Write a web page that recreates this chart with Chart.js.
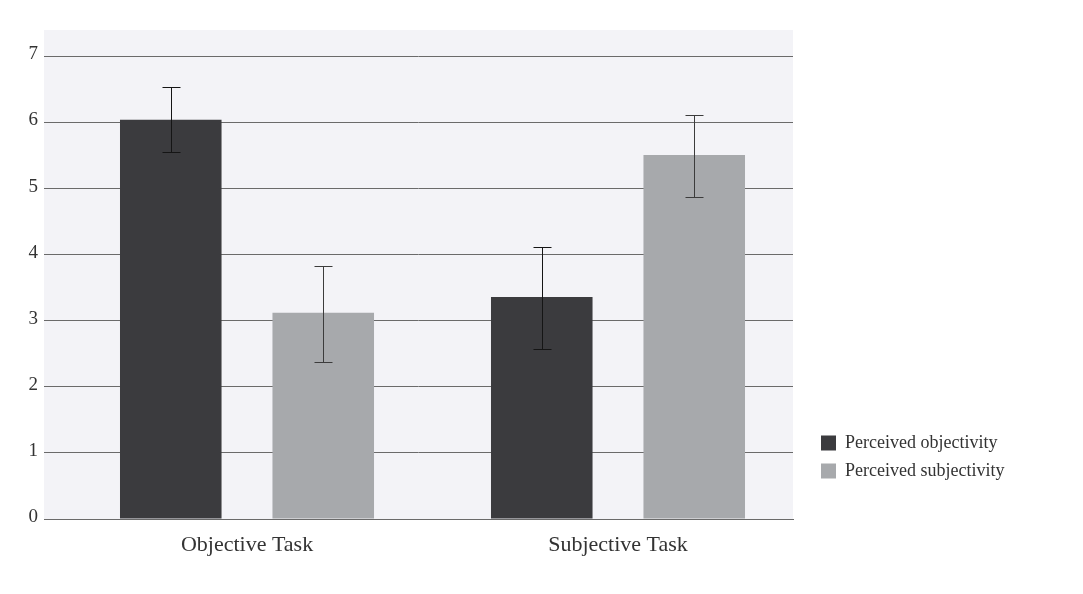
<!DOCTYPE html>
<html>
<head>
<meta charset="utf-8">
<script src="https://cdn.jsdelivr.net/npm/chart.js@4.4.1/dist/chart.umd.min.js"></script>
<style>
  html, body { margin: 0; padding: 0; background: #ffffff; }
  #wrap { width: 1083px; height: 594px; position: relative; }
</style>
</head>
<body>
<div id="wrap"><canvas id="taskChart"></canvas></div>
<script>
const categories = ["Objective Task", "Subjective Task"];
const seriesLabels = ["Perceived objectivity", "Perceived subjectivity"];

const objectivity = [6.04, 3.36];
const objectivityLow = [5.56, 2.57];
const objectivityHigh = [6.53, 4.12];

const subjectivity = [3.12, 5.51];
const subjectivityLow = [2.38, 4.88];
const subjectivityHigh = [3.83, 6.12];

const yTicks = [0, 1, 2, 3, 4, 5, 6, 7];

const DARK = "#3b3b3e";
const LIGHT = "#a7a9ac";
const GRID = "#6a6a6a";
const PLOT_RIGHT = 793;
const LEGEND_GAP = 18;

Chart.defaults.font.family = "'Liberation Serif', 'DejaVu Serif', serif";
Chart.defaults.color = "#333333";

// light panel behind the plot
const plotBackground = {
  id: "plotBackground",
  beforeDraw(chart) {
    const { ctx, chartArea } = chart;
    ctx.save();
    ctx.fillStyle = "#f3f3f7";
    ctx.fillRect(chartArea.left, chartArea.top, chartArea.right - chartArea.left, chartArea.bottom - chartArea.top);
    ctx.restore();
  },
};

// push the legend a little away from the plot
const legendGap = {
  id: "legendGap",
  afterLayout(chart) {
    if (chart.legend) {
      chart.legend.left += LEGEND_GAP;
      chart.legend.right += LEGEND_GAP;
    }
  },
};

// error bars, drawn through the y scale
const errorBars = {
  id: "errorBars",
  afterDatasetsDraw(chart) {
    const { ctx } = chart;
    const yScale = chart.scales.y;
    ctx.save();
    ctx.lineWidth = 1;
    chart.data.datasets.forEach(function (ds, di) {
      const meta = chart.getDatasetMeta(di);
      ctx.strokeStyle = di === 0 ? "#151515" : "#3c3c3c";
      meta.data.forEach(function (bar, i) {
        const x = Math.round(bar.x) + 0.5;
        const top = Math.round(yScale.getPixelForValue(ds.errHigh[i])) + 0.5;
        const bottom = Math.round(yScale.getPixelForValue(ds.errLow[i])) + 0.5;
        ctx.beginPath();
        ctx.moveTo(x, top);
        ctx.lineTo(x, bottom);
        ctx.moveTo(x - 9, top);
        ctx.lineTo(x + 9, top);
        ctx.moveTo(x - 9, bottom);
        ctx.lineTo(x + 9, bottom);
        ctx.stroke();
      });
    });
    ctx.restore();
  },
};

function toPoints(values) {
  return values.map(function (v, i) {
    return { x: i + 1, y: v };
  });
}

const chart = new Chart(document.getElementById("taskChart"), {
  type: "bar",
  data: {
    datasets: [
      {
        label: seriesLabels[0],
        data: toPoints(objectivity),
        errLow: objectivityLow,
        errHigh: objectivityHigh,
        backgroundColor: DARK,
        borderWidth: 0,
        categoryPercentage: 0.822,
        barPercentage: 0.666,
      },
      {
        label: seriesLabels[1],
        data: toPoints(subjectivity),
        errLow: subjectivityLow,
        errHigh: subjectivityHigh,
        backgroundColor: LIGHT,
        borderWidth: 0,
        categoryPercentage: 0.822,
        barPercentage: 0.666,
      },
    ],
  },
  options: {
    responsive: true,
    maintainAspectRatio: false,
    animation: false,
    layout: { padding: { top: 30, left: 0, right: 80, bottom: 0 } },
    scales: {
      x: {
        type: "linear",
        min: 0.4528,
        max: 2.4717,
        offset: false,
        afterBuildTicks: function (scale) {
          scale.ticks = categories.map(function (c, i) {
            return { value: i + 1 };
          });
        },
        afterFit: function (scale) {
          scale.height = 75;
        },
        grid: { display: false, drawTicks: false, offset: false },
        border: { display: true, color: GRID, width: 1 },
        ticks: {
          padding: 13,
          maxRotation: 0,
          autoSkip: false,
          font: { size: 22 },
          color: "#333333",
          callback: function (value) {
            return categories[value - 1];
          },
        },
      },
      y: {
        min: 0,
        max: 7.4,
        afterBuildTicks: function (scale) {
          scale.ticks = yTicks.map(function (v) {
            return { value: v };
          });
        },
        afterFit: function (scale) {
          scale.width = 44;
        },
        grid: { color: GRID, lineWidth: 1, drawTicks: false },
        border: { display: false },
        ticks: {
          padding: 6,
          labelOffset: -2,
          font: { size: 19 },
          color: "#333333",
        },
      },
    },
    plugins: {
      tooltip: { enabled: false },
      legend: {
        position: "right",
        align: "start",
        fullSize: false,
        title: {
          display: true,
          text: " ",
          font: { size: 10, lineHeight: 1.2 },
          padding: { top: 0, bottom: 382 },
        },
        labels: {
          boxWidth: 15,
          boxHeight: 15,
          padding: 10,
          font: { size: 18 },
          color: "#333333",
        },
      },
    },
  },
  plugins: [plotBackground, legendGap, errorBars],
});

// keep the plot's right edge where the reference has it, whatever the legend width
chart.options.layout.padding.right += chart.chartArea.right - PLOT_RIGHT;
chart.update();
</script>
</body>
</html>
